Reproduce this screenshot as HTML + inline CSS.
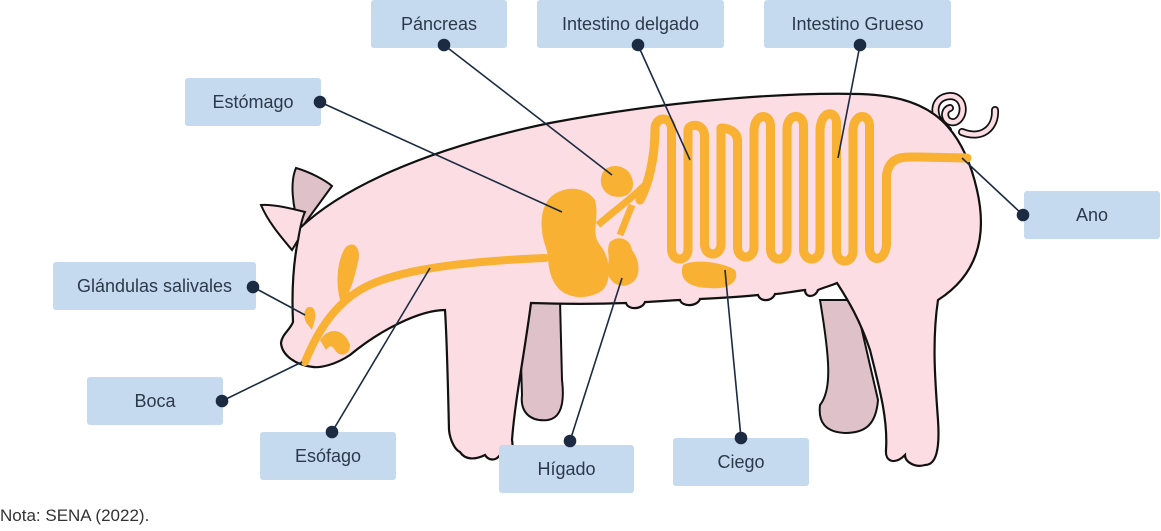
<!DOCTYPE html>
<html><head><meta charset="utf-8"><style>
html,body{margin:0;padding:0;background:#fff;width:1161px;height:531px;overflow:hidden;font-family:"Liberation Sans",sans-serif}
.lbl{position:absolute;background:#c5daef;border-radius:3px;color:#2b3a4a;font-size:18px;display:flex;align-items:center;justify-content:center}
#note{position:absolute;left:0;top:506px;font-size:17px;color:#333}
svg{position:absolute;left:0;top:0}
#top{z-index:5}
</style></head><body>
<svg width="1161" height="531">
 <g fill="#dfc1c9" stroke="#111" stroke-width="2">
  <path d="M519,300 L560,300 L562,380 C565,405 560,418 548,420 C530,422 520,412 522,395 Z"/>
  <path d="M820,300 L855,300 L878,400 C876,425 865,433 845,433 C825,432 818,422 820,405 C832,390 830,360 820,300 Z"/>
 </g>
 <path d="M300,230 C292,205 290,182 296,168 C310,172 325,180 332,186 Z" fill="#dfc1c9" stroke="#111" stroke-width="2"/>
 <g fill="none">
  <path d="M948,130 C930,118 932,97 950,96 C966,96 966,118 955,122 C944,124 942,110 950,108 M962,132 C982,140 996,128 995,110" stroke="#111" stroke-width="8" stroke-linecap="round"/>
  <path d="M948,130 C930,118 932,97 950,96 C966,96 966,118 955,122 C944,124 942,110 950,108 M962,132 C982,140 996,128 995,110" stroke="#fbdde3" stroke-width="4.5" stroke-linecap="round"/>
 </g>
 <path fill="#fbdde3" stroke="#111" stroke-width="2.2" d="
 M300,228 C340,190 420,150 550,123 C660,102 780,92 860,94 C920,96 960,115 977,190
 C985,225 985,270 938,300 C932,340 935,380 938,420 C940,450 936,465 925,465 C915,468 905,462 905,455
 C895,465 885,462 886,450 C888,420 880,390 870,350 C860,320 848,300 837,283
 C830,286 822,288 818,290 C815,298 805,298 805,290 C790,292 780,294 775,294 C772,302 760,302 758,295
 C740,297 720,298 700,299 C697,307 682,307 680,300 C660,301 650,302 645,302 C642,310 628,310 626,303
 C600,304 560,304 531,303 C525,350 515,400 512,440 C514,450 510,456 500,455 C495,462 488,460 485,455
 C475,460 465,460 460,452 C455,450 450,440 449,430 C448,390 447,340 445,310
 C420,310 380,330 350,355 C335,365 320,368 313,367 C295,365 282,355 281,343
 C282,334 290,330 293,322 C292,300 292,270 298,240 Z"/>
 <path d="M298,240 C300,228 302,218 305,212 C290,208 272,204 261,205 C268,222 282,238 292,250 Z" fill="#fbdde3" stroke="#111" stroke-width="2"/>
 <g fill="#f8b133" stroke="none">
  <path d="M305,362 C318,330 335,305 360,290 C390,272 450,262 545,258" fill="none" stroke="#f8b133" stroke-width="8" stroke-linecap="round"/>
  <path d="M340,300 C335,280 338,260 345,248 C352,240 362,246 358,262 C354,280 350,292 345,300 Z"/>
  <path d="M320,340 C330,325 345,330 350,345 C350,355 340,358 335,350 C332,345 330,345 326,350 Z"/>
  <path d="M308,325 C300,315 306,303 313,308 C318,315 314,322 312,330 Z"/>
  <path d="M548,200 C560,185 585,185 595,200 C600,220 590,232 600,245 C612,260 612,285 600,292 C585,300 570,298 560,290 C545,275 550,255 545,245 C540,228 540,212 548,200 Z"/>
  <path d="M603,172 C610,162 628,165 632,178 C636,190 628,200 612,196 C602,192 598,182 603,172 Z"/>
  <path d="M610,242 C618,235 630,238 632,250 C640,260 642,278 630,284 C618,290 605,280 608,265 C610,255 606,250 610,242 Z"/>
  <path d="M683,265 C695,258 725,263 735,270 C740,280 730,290 710,288 C690,288 678,280 683,265 Z"/>
  <path d="M598,225 C615,210 630,200 645,185 M620,235 L632,205" fill="none" stroke="#f8b133" stroke-width="7"/>
  <path id="gut" d="" fill="none" stroke="#f8b133" stroke-width="9" stroke-linecap="round" stroke-linejoin="round"/>
 </g>
</svg>
<div class="lbl" style="left:371px;top:0;width:136px;height:48px">Páncreas</div>
<div class="lbl" style="left:537px;top:0;width:187px;height:48px">Intestino delgado</div>
<div class="lbl" style="left:764px;top:0;width:187px;height:48px">Intestino Grueso</div>
<div class="lbl" style="left:185px;top:78px;width:136px;height:48px">Estómago</div>
<div class="lbl" style="left:1024px;top:191px;width:136px;height:48px">Ano</div>
<div class="lbl" style="left:53px;top:262px;width:203px;height:48px">Glándulas salivales</div>
<div class="lbl" style="left:87px;top:377px;width:136px;height:48px">Boca</div>
<div class="lbl" style="left:260px;top:432px;width:136px;height:48px">Esófago</div>
<div class="lbl" style="left:499px;top:445px;width:135px;height:48px">Hígado</div>
<div class="lbl" style="left:673px;top:438px;width:136px;height:48px">Ciego</div>
<div id="note">Nota: SENA (2022).</div>
<svg id="top" width="1161" height="531">
 <g id="leaders" stroke="#1c2b42" stroke-width="1.6" fill="#1c2b42"></g>
</svg>
<script>
var tops=[128,130,135,128,140,130,125,128,125,130,122,130,125];
var bots=[250,250,245,250,248,250,250,252,250,250,252,250,252];
var x0=655,dx=16.5,d="M640,200 C648,185 655,160 "+x0+","+tops[0];
for(var i=0;i<tops.length;i++){
  var x=x0+i*dx;
  if(i%2==0){d+=" C"+(x+1)+","+(tops[i]-12)+" "+(x+dx-1)+","+(tops[i]-12)+" "+(x+dx)+","+tops[i];}
  else{d+=" L"+x+","+bots[i-1]+" C"+(x+1)+","+(bots[i-1]+12)+" "+(x+dx-1)+","+(bots[i-1]+12)+" "+(x+dx)+","+bots[i-1]+" L"+(x+dx)+","+tops[i];}
}
var xe=x0+tops.length*dx;
d+=" L"+xe+",250 C"+(xe+2)+",262 "+(xe+15)+",262 "+(xe+17)+",245 L"+(xe+17)+",175 C"+(xe+20)+",155 "+(xe+35)+",157 "+(xe+50)+",157 L967,158";
document.getElementById('gut').setAttribute('d',d);
var L=[[444,45,612,175],[638,45,690,160],[860,45,838,158],[320,102,562,212],[1023,215,962,158],[253,287,305,315],[222,401,302,362],[332,432,430,268],[570,441,622,278],[741,438,725,270]];
var g=document.getElementById('leaders'),ns="http://www.w3.org/2000/svg";
L.forEach(function(a){
  var l=document.createElementNS(ns,'line');
  
  
  l.setAttribute('x1',a[0]);l.setAttribute('y1',a[1]);l.setAttribute('x2',a[2]);l.setAttribute('y2',a[3]);g.appendChild(l);
  var c=document.createElementNS(ns,'circle');
  
  
  c.setAttribute('cx',a[0]);c.setAttribute('cy',a[1]);c.setAttribute('r',5.5);g.appendChild(c);
});
</script>
</body></html>
